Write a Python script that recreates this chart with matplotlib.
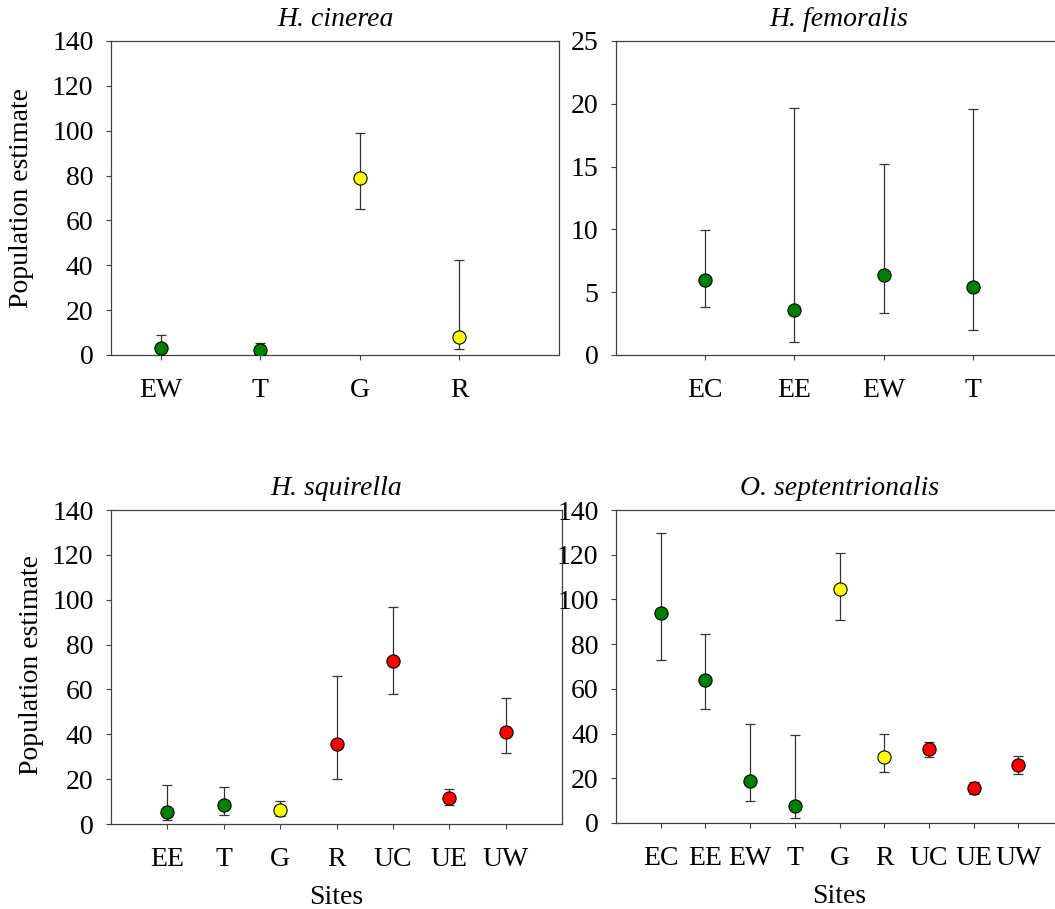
import numpy as np
import matplotlib

matplotlib.use("Agg")
from matplotlib import pyplot as plt

# site labels, estimates and confidence limits per species
cin_sites = ["EW", "T", "G", "R"]
cin_est = [3.0, 2.1, 79.0, 8.1]
cin_low = [1.0, 0.5, 65.0, 2.5]
cin_high = [8.7, 5.2, 98.9, 42.4]
cin_col = ["green", "green", "yellow", "yellow"]

fem_sites = ["EC", "EE", "EW", "T"]
fem_est = [5.96, 3.58, 6.34, 5.43]
fem_low = [3.84, 1.06, 3.37, 1.99]
fem_high = [9.94, 19.7, 15.2, 19.6]
fem_col = ["green", "green", "green", "green"]

squ_sites = ["EE", "T", "G", "R", "UC", "UE", "UW"]
squ_est = [5.3, 8.4, 6.4, 35.7, 72.7, 11.6, 41.0]
squ_low = [1.9, 4.1, 3.4, 20.0, 57.8, 8.4, 31.7]
squ_high = [17.3, 16.7, 10.4, 66.1, 96.7, 15.6, 56.1]
squ_col = ["green", "green", "yellow", "red", "red", "red", "red"]

sep_sites = ["EC", "EE", "EW", "T", "G", "R", "UC", "UE", "UW"]
sep_est = [94.0, 64.0, 18.7, 7.5, 104.5, 29.6, 33.1, 15.5, 26.0]
sep_low = [73.1, 51.0, 9.9, 2.1, 90.9, 22.8, 29.3, 12.8, 22.1]
sep_high = [129.7, 84.6, 44.2, 39.4, 120.9, 39.7, 36.4, 18.5, 30.0]
sep_col = ["green", "green", "green", "green", "yellow", "yellow", "red", "red", "red"]

COLORS = {"green": "#008000", "yellow": "#ffff00", "red": "#ff0000"}
SPINE = "#404040"
FS = 20

plt.rcParams['font.family'] = ['Liberation Serif', 'DejaVu Serif']
plt.rcParams['font.size'] = FS

W, H = 1055, 909
fig = plt.figure(figsize=(W / 100, H / 100), dpi=100)


def box(x0, x1, ytop, ybot):
    return [x0 / W, 1 - ybot / H, (x1 - x0) / W, (ybot - ytop) / H]


def panel(rect, sites, est, low, high, cols, title, xlim, ymax, ystep,
          right_spine=True, xlabel=None):
    ax = fig.add_axes(rect)
    x = np.arange(1, len(sites) + 1)
    est = np.array(est)
    err = [est - np.array(low), np.array(high) - est]
    ax.errorbar(x, est, yerr=err, fmt='none', ecolor="#333333",
                elinewidth=0.9, capsize=3.3, capthick=0.9, zorder=2)
    for xi, yi, c in zip(x, est, cols):
        ax.plot(xi, yi, 'o', ms=9.5, mfc=COLORS[c], mec="black",
                mew=0.8, zorder=3)
    ax.set_xlim(*xlim)
    ax.set_ylim(0, ymax)
    ax.set_yticks(np.arange(0, ymax + 1, ystep))
    ax.set_xticks(x)
    ax.set_xticklabels(sites)
    ax.tick_params(axis='x', direction='out', length=3.6, width=0.8,
                   pad=13, color=SPINE, labelsize=FS)
    ax.tick_params(axis='y', direction='out', length=3.6, width=0.8,
                   pad=9, color=SPINE, labelsize=FS)
    for s in ax.spines.values():
        s.set_color(SPINE)
        s.set_linewidth(0.9)
    ax.spines['right'].set_visible(right_spine)
    ax.set_title(title, style='italic', fontsize=FS, pad=11)
    if xlabel:
        ax.set_xlabel(xlabel, fontsize=FS, labelpad=9)
    return ax


ax1 = panel(box(111, 559, 41, 355), cin_sites, cin_est, cin_low, cin_high,
            cin_col, "H. cinerea", (0.5, 5.0), 140, 20)
ax2 = panel(box(616, 1062, 41, 355), fem_sites, fem_est, fem_low, fem_high,
            fem_col, "H. femoralis", (0, 5), 25, 5, right_spine=False)
ax3 = panel(box(111, 562, 510, 824), squ_sites, squ_est, squ_low, squ_high,
            squ_col, "H. squirella", (0, 8), 140, 20, xlabel="Sites")
ax4 = panel(box(616, 1063, 510, 823), sep_sites, sep_est, sep_low, sep_high,
            sep_col, "O. septentrionalis", (0, 10), 140, 20,
            right_spine=False, xlabel="Sites")

fig.text(22 / W, 1 - 198 / H, "Population estimate", rotation=90,
         ha='center', va='center', fontsize=FS)
fig.text(32 / W, 1 - 665 / H, "Population estimate", rotation=90,
         ha='center', va='center', fontsize=FS)

fig.savefig("out.png", dpi=100)
